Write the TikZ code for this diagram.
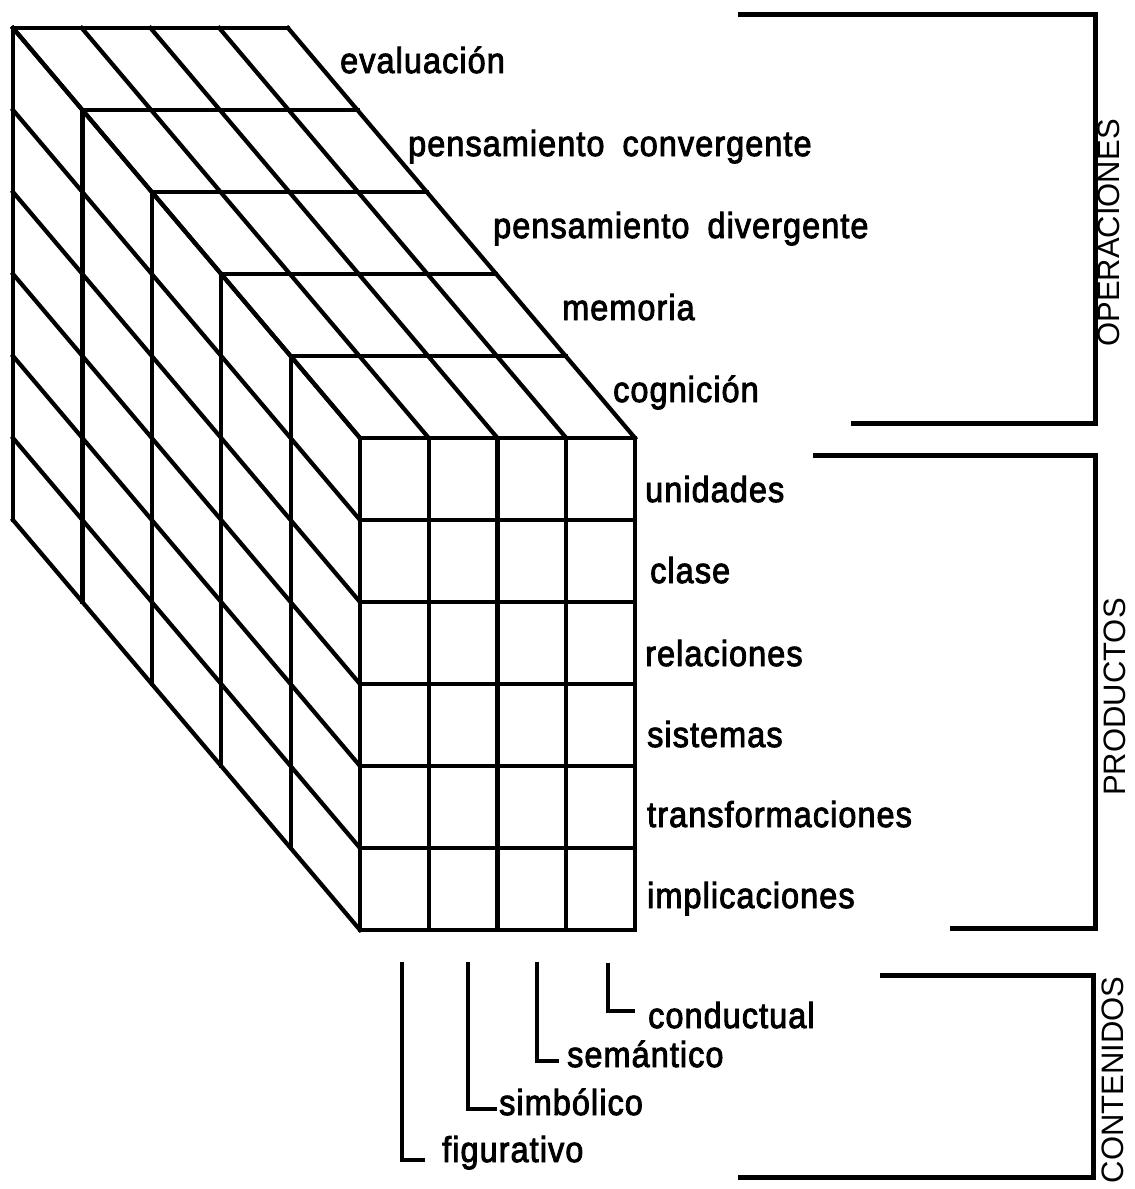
\documentclass[tikz,border=0pt]{standalone}
\usepackage{fontspec}
\setmainfont{Liberation Sans}[FakeStretch=0.9,LetterSpace=3,FakeBold=2.5]
\newfontfamily\capfont{Liberation Sans}
\begin{document}
\begin{tikzpicture}[x=1pt,y=-1pt,
  cube/.style={line width=4.2pt,line cap=rect},
  brk/.style={line width=5pt,line cap=rect,line join=miter},
  conn/.style={line width=4.2pt,line join=miter},
  lab/.style={anchor=base west,inner sep=0pt,font=\fontsize{36}{40}\selectfont},
  vlabel/.style={rotate=90,inner sep=0pt,font=\capfont\fontsize{31}{34}\selectfont}]
\useasboundingbox (0,0) rectangle (1135,1189);
% ---- cube: front face
\foreach \i in {0,...,4} \draw[cube] ({360+\i*68.75},438) -- ++(0,492);
\foreach \j in {0,...,6} \draw[cube] (360,{438+\j*82}) -- ++(275,0);
% ---- top face
\foreach \k in {1,...,5} \draw[cube] ({360-\k*69.4},{438-\k*82}) -- ++(275,0);
\foreach \i in {0,...,4} \draw[cube] ({360+\i*68.75},438) -- ++(-347,-410);
% ---- left face
\foreach \k in {1,...,5} \draw[cube] ({360-\k*69.4},{438-\k*82}) -- ++(0,492);
\foreach \j in {0,...,6} \draw[cube] (360,{438+\j*82}) -- ++(-347,-410);
% ---- operation labels
\node[lab] (evaluacion) at (340,73) {evaluación};
\node[lab] (convergente) at (408,156) {pensamiento\hspace{18pt}convergente};
\node[lab] (divergente) at (493,238) {pensamiento\hspace{18pt}divergente};
\node[lab] (memoria) at (562,320) {memoria};
\node[lab] (cognicion) at (613,402) {cognición};
% ---- product labels
\node[lab] (unidades) at (645,502) {unidades};
\node[lab] (clase) at (650,583) {clase};
\node[lab] (relaciones) at (645,666) {relaciones};
\node[lab] (sistemas) at (647,747) {sistemas};
\node[lab] (transformaciones) at (647,827) {transformaciones};
\node[lab] (implicaciones) at (647,908) {implicaciones};
% ---- content labels
\node[lab] (conductual) at (648,1028) {conductual};
\node[lab] (semantico) at (567,1067) {semántico};
\node[lab] (simbolico) at (499,1115) {simbólico};
\node[lab] (figurativo) at (442,1162) {figurativo};
\coordinate (cfigT) at (402,962);  \coordinate (cfigE) at (425,1160);
\coordinate (csimT) at (468,962);  \coordinate (csimE) at (497,1109);
\coordinate (csemT) at (537,962);  \coordinate (csemE) at (559,1061);
\coordinate (ccondT) at (608,963); \coordinate (ccondE) at (635,1011);
\draw[conn] (cfigT) |- (cfigE);
\draw[conn] (csimT) |- (csimE);
\draw[conn] (csemT) |- (csemE);
\draw[conn] (ccondT) |- (ccondE);
% ---- brackets
\coordinate (opA) at (740,14);  \coordinate (opB) at (853,423);
\coordinate (prA) at (815,455); \coordinate (prB) at (952,928);
\coordinate (coA) at (882,975); \coordinate (coB) at (740,1177);
\draw[brk] (opA) -- (1095,14) -- (1095,423) -- (opB);
\draw[brk] (prA) -- (1095,455) -- (1095,928) -- (prB);
\draw[brk] (coA) -- (1093,975) -- (1093,1177) -- (coB);
\node[vlabel] (operaciones) at (1109,233) {OPERACIONES};
\node[vlabel] (productos) at (1115,697) {PRODUCTOS};
\node[vlabel] (contenidos) at (1113,1080) {CONTENIDOS};
\end{tikzpicture}
\end{document}
